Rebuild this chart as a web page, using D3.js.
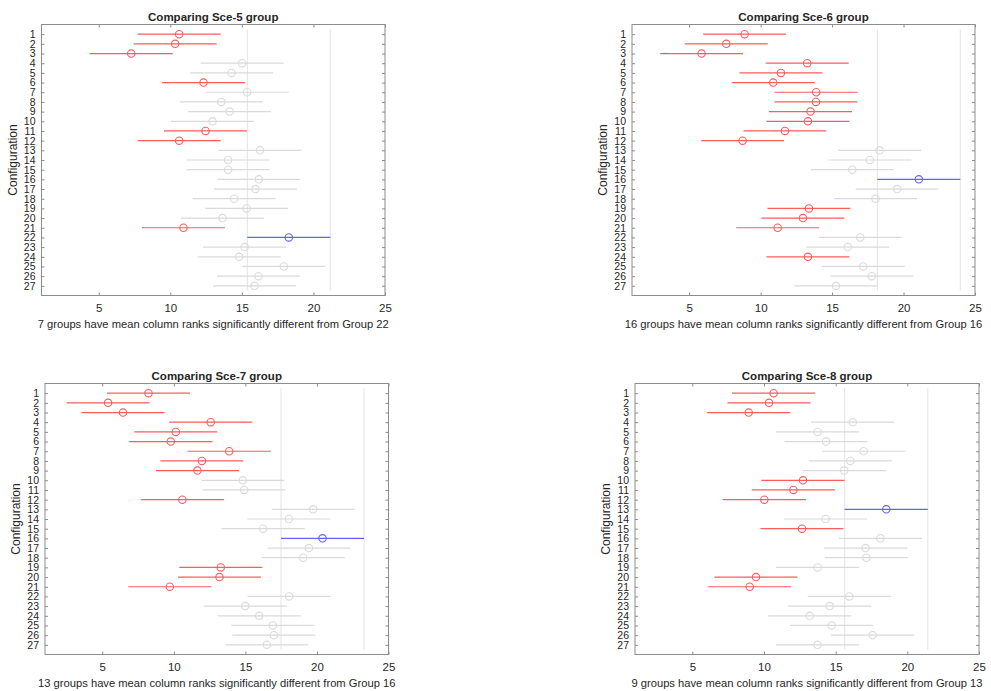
<!DOCTYPE html>
<html>
<head>
<meta charset="utf-8">
<script src="https://cdn.jsdelivr.net/npm/d3@7"></script>
<style>
  body { margin: 0; background: #fff; }
  svg text { font-family: "Liberation Sans", Arial, Helvetica, sans-serif; fill: #262626; }
</style>
</head>
<body>
<svg id="chart" width="991" height="691"></svg>
<script>
// configuration labels (rows)
const configs = [1,2,3,4,5,6,7,8,9,10,11,12,13,14,15,16,17,18,19,20,21,22,23,24,25,26,27];
const xTicks = [5, 10, 15, 20, 25];
const halfWidth = 2.9; // comparison interval half width (mean column rank)

// mean column ranks
const sce5Means = [10.62,10.34,7.27,15.02,14.28,12.32,15.37,13.56,14.14,12.95,12.46,10.62,16.26,14.04,14.04,16.19,15.95,14.46,15.33,13.65,10.92,18.28,15.19,14.81,17.93,16.16,15.88];
const sce6Means = [8.88,7.60,5.87,13.26,11.42,10.88,13.89,13.87,13.49,13.31,11.70,8.74,18.32,17.64,16.41,21.07,19.55,18.04,13.38,12.96,11.19,16.97,16.10,13.31,17.18,17.78,15.27];
const sce7Means = [8.23,5.41,6.45,12.58,10.14,9.79,13.87,11.96,11.65,14.82,14.92,10.60,19.74,18.04,16.24,20.39,19.44,19.04,13.28,13.19,9.72,18.06,14.99,15.97,16.92,16.99,16.50];
const sce8Means = [10.67,10.35,8.93,16.19,13.74,14.33,16.95,16.02,15.60,12.72,12.05,10.02,18.53,14.30,12.65,18.12,17.09,17.14,13.74,9.44,9.00,15.95,14.58,13.19,14.72,17.58,13.74];

// groups significantly different from the selected one
const sce5Sig = [1,2,3,6,11,12,21];
const sce6Sig = [1,2,3,4,5,6,7,8,9,10,11,12,19,20,21,24];
const sce7Sig = [1,2,3,4,5,6,7,8,9,12,19,20,21];
const sce8Sig = [1,2,3,10,11,12,15,20,21];

const titles = ["Comparing Sce-5 group", "Comparing Sce-6 group", "Comparing Sce-7 group", "Comparing Sce-8 group"];
const selected = [22, 16, 16, 13];

const panels = [
  { means: sce5Means, sig: sce5Sig, x0: 41.5, x1: 385, y0: 24.5, y1: 295.5 },
  { means: sce6Means, sig: sce6Sig, x0: 632, x1: 975, y0: 24.5, y1: 295.5 },
  { means: sce7Means, sig: sce7Sig, x0: 45, x1: 388.5, y0: 383.5, y1: 654.5 },
  { means: sce8Means, sig: sce8Sig, x0: 635, x1: 979, y0: 383.5, y1: 654.5 }
];

const svg = d3.select("#chart");

panels.forEach((p, k) => {
  const x = d3.scaleLinear().domain([1, 25]).range([p.x0, p.x1]);
  const y = d3.scaleLinear().domain([0, 28]).range([p.y0, p.y1]);
  const g = svg.append("g");
  const grp = selected[k];
  const gm = p.means[grp - 1];

  // reference lines at the selected group's interval ends
  [gm - halfWidth, gm + halfWidth].forEach(v => {
    g.append("line")
      .attr("x1", x(v)).attr("x2", x(v))
      .attr("y1", y(0.5)).attr("y2", y(27.5))
      .style("stroke", "#e3e3e3").style("stroke-width", 1);
  });

  const colorOf = (c) => c === grp ? "#6262ff" : (p.sig.includes(c) ? "#ff5c5c" : "#dadada");

  configs.forEach((c, i) => {
    const m = p.means[i];
    g.append("line")
      .attr("x1", x(m - halfWidth)).attr("x2", x(m + halfWidth))
      .attr("y1", y(c)).attr("y2", y(c))
      .style("stroke", colorOf(c)).style("stroke-width", 1.2);
    g.append("circle")
      .attr("cx", x(m)).attr("cy", y(c)).attr("r", 3.7)
      .style("fill", "none")
      .style("stroke", colorOf(c)).style("stroke-width", 1.1);
  });

  // box
  g.append("rect")
    .attr("x", p.x0).attr("y", p.y0)
    .attr("width", p.x1 - p.x0).attr("height", p.y1 - p.y0)
    .style("fill", "none").style("stroke", "#8c8c8c").style("stroke-width", 1);

  // x axis (ticks inward, bottom and top)
  g.append("g").attr("class", "ax").attr("transform", `translate(0,${p.y1})`)
    .call(d3.axisBottom(x).tickValues(xTicks).tickSizeInner(-3).tickSizeOuter(0).tickPadding(8));
  g.append("g").attr("class", "ax").attr("transform", `translate(0,${p.y0})`)
    .call(d3.axisTop(x).tickValues(xTicks).tickSizeInner(-3).tickSizeOuter(0).tickFormat(""));

  // y axis (ticks inward, left and right)
  const yl = g.append("g").attr("class", "ax").attr("transform", `translate(${p.x0},0)`)
    .call(d3.axisLeft(y).tickValues(configs).tickSizeInner(-3).tickSizeOuter(0).tickPadding(6));
  g.append("g").attr("class", "ax").attr("transform", `translate(${p.x1},0)`)
    .call(d3.axisRight(y).tickValues(configs).tickSizeInner(-3).tickSizeOuter(0).tickFormat(""));

  g.selectAll(".ax .domain").remove();
  g.selectAll(".ax .tick line").style("stroke", "#8c8c8c");
  g.selectAll(".ax .tick text").style("font-size", "11.5px").style("fill", "#262626");
  yl.selectAll(".tick text").style("font-size", "10.5px");

  // title
  g.append("text")
    .attr("x", (p.x0 + p.x1) / 2).attr("y", p.y0 - 4)
    .attr("text-anchor", "middle")
    .style("font-size", "11.5px").style("font-weight", "bold")
    .text(titles[k]);

  // x label
  g.append("text")
    .attr("x", (p.x0 + p.x1) / 2).attr("y", p.y1 + 32)
    .attr("text-anchor", "middle")
    .style("font-size", "11.2px")
    .text(`${p.sig.length} groups have mean column ranks significantly different from Group ${grp}`);

  // y label
  g.append("text")
    .attr("transform", `translate(${p.x0 - 25},${(p.y0 + p.y1) / 2}) rotate(-90)`)
    .attr("text-anchor", "middle")
    .style("font-size", "12px")
    .text("Configuration");
});
</script>
</body>
</html>
